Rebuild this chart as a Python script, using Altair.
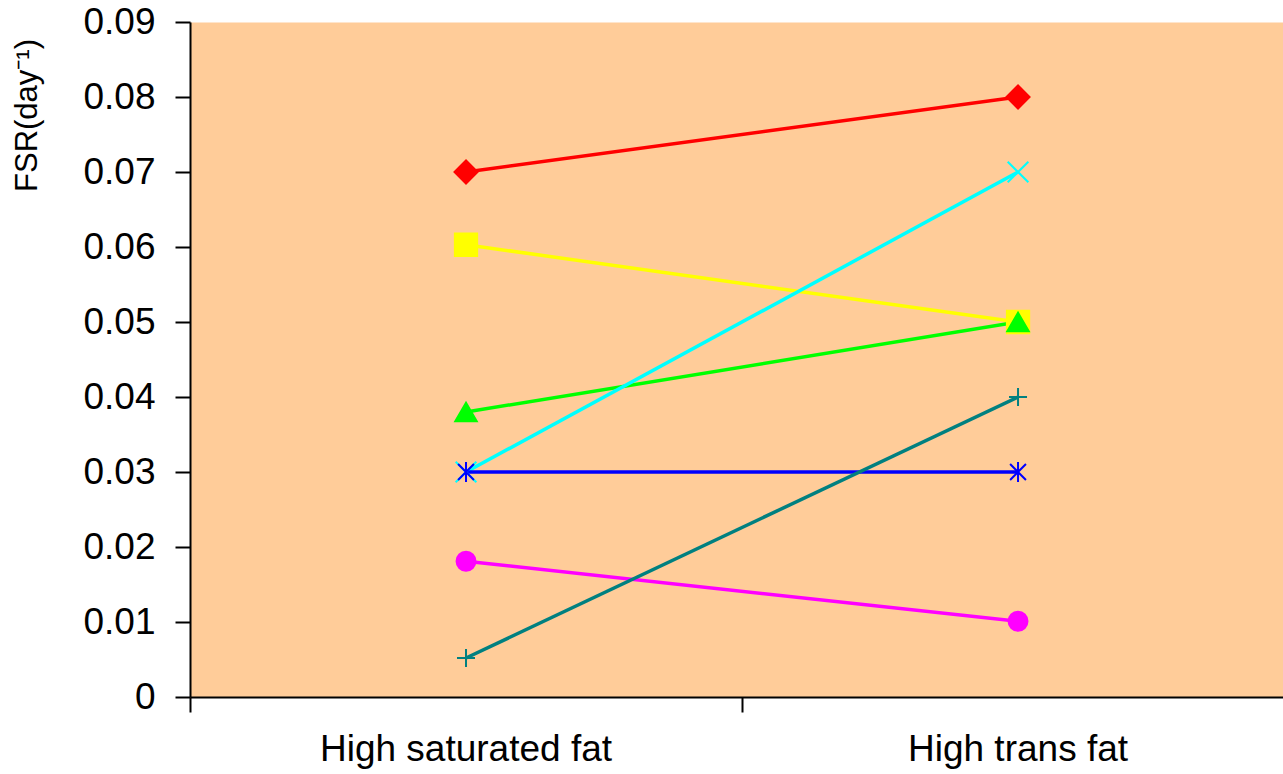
import altair as alt
import pandas as pd

categories = ["High saturated fat", "High trans fat"]
category_pos = [0.5, 1.5]
series = ["S1", "S2", "S3", "S4", "S5", "S6", "S7"]
sat_values = [0.070, 0.0603, 0.038, 0.030, 0.030, 0.0181, 0.0052]
trans_values = [0.080, 0.050, 0.050, 0.070, 0.030, 0.0101, 0.040]
colors = ["#FF0000", "#FFFF00", "#00FF00", "#00FFFF", "#0000FF", "#FF00FF", "#008080"]
shapes = [
    "diamond",
    "square",
    "triangle-up",
    "M-1,-1L1,1M-1,1L1,-1",
    "M0,-1L0,1M-0.8,-0.8L0.8,0.8M-0.8,0.8L0.8,-0.8",
    "circle",
    "M-1,0L1,0M0,-1L0,1",
]
sizes = [530, 324, 380, 324, 340, 324, 324]
y_ticks = [0, 0.01, 0.02, 0.03, 0.04, 0.05, 0.06, 0.07, 0.08, 0.09]

rows = []
for s, a, b in zip(series, sat_values, trans_values):
    rows.append({"series": s, "cat": categories[0], "x": category_pos[0], "y": a})
    rows.append({"series": s, "cat": categories[1], "x": category_pos[1], "y": b})
df = pd.DataFrame(rows)
lab = pd.DataFrame({"cat": categories, "x": category_pos})

FONT = "Liberation Sans"

xscale = alt.Scale(domain=[0, 1.98], nice=False, zero=False)
yscale = alt.Scale(domain=[0, 0.09], nice=False)

xaxis = alt.Axis(values=[0, 1, 2], labels=False, title=None, grid=False,
                 domainColor="black", domainWidth=2, tickColor="black",
                 tickSize=15, tickWidth=2)
yaxis = alt.Axis(values=y_ticks, grid=False, domainColor="black", domainWidth=2,
                 tickColor="black", tickSize=15, tickWidth=2,
                 labelFont=FONT, labelFontSize=37, labelColor="black",
                 labelPadding=20, labelBaseline="middle",
                 labelExpr="datum.value == 0 ? '0' : format(datum.value, '.2f')",
                 title="FSR(day⁻¹)", titleFont=FONT, titleFontSize=31,
                 titleFontWeight="normal", titleColor="black",
                 titleAngle=-90, titleAlign="center", titleBaseline="middle",
                 titleX=-163, titleY=93)

cscale = alt.Scale(domain=series, range=colors)

lines = alt.Chart(df).mark_line(strokeWidth=3.5).encode(
    x=alt.X("x:Q", scale=xscale, axis=xaxis),
    y=alt.Y("y:Q", scale=yscale, axis=yaxis),
    color=alt.Color("series:N", scale=cscale, legend=None),
    detail="series:N",
)

points = alt.Chart(df).mark_point(filled=True, strokeWidth=2, opacity=1).encode(
    x=alt.X("x:Q", scale=xscale),
    y=alt.Y("y:Q", scale=yscale),
    fill=alt.Fill("series:N", scale=cscale, legend=None),
    stroke=alt.Stroke("series:N", scale=cscale, legend=None),
    shape=alt.Shape("series:N", scale=alt.Scale(domain=series, range=shapes), legend=None),
    size=alt.Size("series:N", scale=alt.Scale(domain=series, range=sizes), legend=None),
)

labels = alt.Chart(lab).mark_text(font=FONT, fontSize=37, color="black",
                                  align="center", baseline="middle").encode(
    x=alt.X("x:Q", scale=xscale),
    y=alt.value(728),
    text="cat:N",
)

chart = alt.layer(lines, points, labels).properties(
    width=1093, height=675,
    autosize=alt.AutoSizeParams(type="none"),
    padding={"left": 190, "top": 22, "right": 0, "bottom": 76},
    background="white",
).configure_view(fill="#FFCC99", stroke="transparent")

chart.save("out.html", embed_options={"renderer": "svg", "actions": False})
